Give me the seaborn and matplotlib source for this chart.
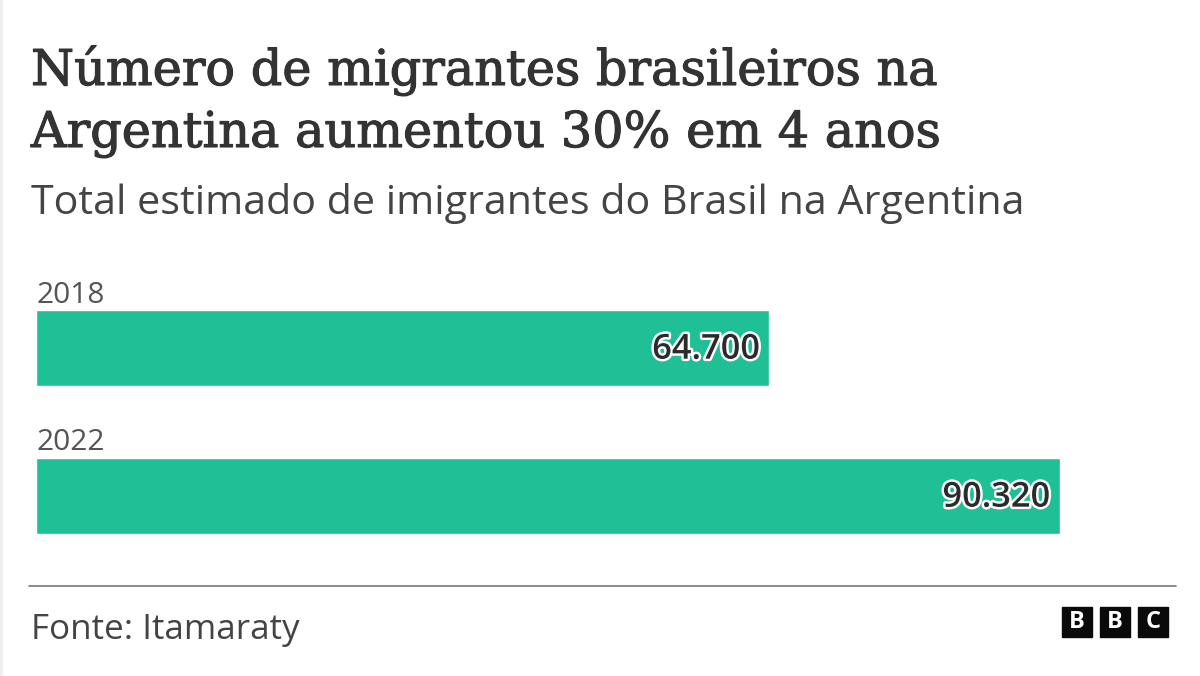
import matplotlib
matplotlib.use("Agg")
import matplotlib.pyplot as plt
import matplotlib.patheffects as pe
from matplotlib.patches import Rectangle
import pandas as pd
import seaborn as sns

years = ["2018", "2022"]
values = [64700, 90320]
value_labels = ["64.700", "90.320"]
title_lines = ["Número de migrantes brasileiros na", "Argentina aumentou 30% em 4 anos"]
subtitle = "Total estimado de imigrantes do Brasil na Argentina"
source = "Fonte: Itamaraty"
logo = ["B", "B", "C"]

sns.set_theme(style="white")
plt.rcParams['font.family'] = ['Open Sans', 'DejaVu Sans']

W, H = 1200, 676
fig = plt.figure(figsize=(W/100, H/100), dpi=100, facecolor="white")
ax = fig.add_axes([36/W, 1-533.6/H, (1059.6-36)/W, (533.6-309.6)/H])
df = pd.DataFrame({"year": years, "value": values})
sns.barplot(data=df, y="year", x="value", color="#1fc095", saturation=1, width=0.5135, ax=ax)
ax.set_xlim(0, 90320)
ax.set_ylim(1.2568, -0.2568)
ax.axis("off")
for i, (v, lab) in enumerate(zip(values, value_labels)):
    ax.annotate(lab, (v, i), xytext=(-6.5, -1.5), textcoords="offset points",
                ha="right", va="center", fontsize=24.8, color="#2b2b2b", family=["Open Sans"],
                fontweight="semibold",
                path_effects=[pe.withStroke(linewidth=3.5, foreground="white")])

def t(x, y, s, **k):
    fig.text(x/W, 1-y/H, s, **k)

for y, line in zip([85, 147], title_lines):
    t(31, y, line, fontsize=35.5, family=["DejaVu Serif"], color="#333333", va="baseline",
      path_effects=[pe.withStroke(linewidth=0.8, foreground="#333333")])
t(31, 214, subtitle, fontsize=29.7, family=["Open Sans"], color="#444444", va="baseline")
t(37, 303, years[0], fontsize=21.5, family=["Open Sans"], color="#555555", va="baseline")
t(37, 450, years[1], fontsize=21.5, family=["Open Sans"], color="#555555", va="baseline")
t(31, 639, source, fontsize=25.2, family=["Open Sans"], color="#444444", va="baseline")

fig.add_artist(plt.Line2D([29/W, 1176/W], [1-586/H]*2, color="#777777", lw=1.2))
fig.add_artist(plt.Line2D([1/W, 1/W], [0, 1], color="#eeeeee", lw=2))
for x0, ch in zip([1062, 1100, 1138], logo):
    fig.add_artist(Rectangle((x0/W, 1-637/H), 30/W, 30/H, color="#0a0a0a", transform=fig.transFigure))
    t(x0+15, 622, ch, fontsize=17, fontweight="bold", color="white", ha="center", va="center")

fig.savefig("out.png", dpi=100)
